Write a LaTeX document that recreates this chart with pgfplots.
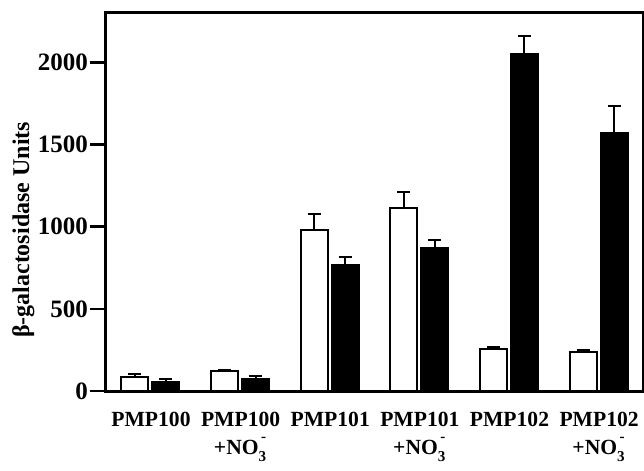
\documentclass[border=0pt]{standalone}
\usepackage{fontspec}
\setmainfont{Liberation Serif}
\usepackage{pgfplots}
\pgfplotsset{compat=1.18}
\newcommand{\nothree}{+NO\rlap{\raisebox{0.45ex}{\textsuperscript{\,-}}}\raisebox{-0.45ex}{\textsubscript{3}}}
\begin{document}
\begin{tikzpicture}
\begin{axis}[
  width=269pt, height=189pt, scale only axis,
  xmin=-0.513, xmax=5.49, ymin=0, ymax=2300,
  axis line style={line width=1.5pt},
  ytick={0,500,1000,1500,2000},
  xtick={0,1,2,3,4,5},
  xticklabels={PMP100, PMP100\\[1pt]\nothree,
    PMP101, PMP101\\[1pt]\nothree,
    PMP102, PMP102\\[1pt]\nothree},
  xticklabel style={align=center, font=\fontsize{10.8}{12.8}\selectfont\bfseries, anchor=north, yshift=0.5pt},
  yticklabel style={font=\fontsize{12.5}{15}\selectfont\bfseries, inner sep=0.8pt},
  /pgf/number format/assume math mode=true,
  /pgf/number format/1000 sep={},
  x tick style={draw=none},
  y tick style={line width=1.2pt, black},
  major tick length=7.5pt,
  tick align=outside,
  ytick pos=left,
  ylabel={β-galactosidase Units},
  ylabel style={at={(axis description cs:-0.152,0.426)}, anchor=center, font=\fontsize{12}{14}\selectfont\bfseries},
  ybar, bar width=13.5pt,
  error bars/y dir=plus, error bars/y explicit,
  error bars/error bar style={line width=1pt, black},
  error bars/error mark options={rotate=90, mark size=3.25pt, line width=1pt, black},
  clip=false,
]
\addplot[draw=black, fill=white, line width=1pt, bar shift=-8pt] coordinates {
  (0,87) +- (0,18)
  (1,122) +- (0,8)
  (2,979) +- (0,100)
  (3,1112) +- (0,98)
  (4,255) +- (0,14)
  (5,235) +- (0,14)
};
\addplot[draw=black, fill=black, line width=1pt, bar shift=7.5pt] coordinates {
  (0,57) +- (0,14)
  (1,73) +- (0,16)
  (2,766) +- (0,49)
  (3,869) +- (0,49)
  (4,2053) +- (0,105)
  (5,1570) +- (0,163)
};
\coordinate (bl) at (rel axis cs:0,0);
\coordinate (tr) at (rel axis cs:1,1);
\end{axis}
\pgfresetboundingbox
\path[use as bounding box] ([shift={(-52.5pt,-39.5pt)}]bl) rectangle ([shift={(0.5pt,6.5pt)}]tr);
\end{tikzpicture}
\end{document}
